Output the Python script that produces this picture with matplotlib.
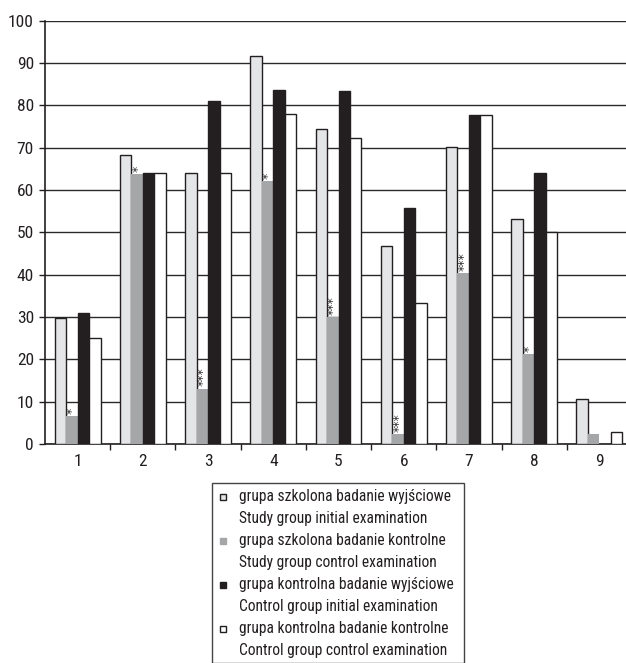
import matplotlib
matplotlib.use("Agg")
import matplotlib.pyplot as plt
from matplotlib.patches import Rectangle
import numpy as np

plt.rcParams['font.family'] = ['Roboto Condensed', 'Liberation Sans Narrow',
                               'Roboto', 'DejaVu Sans']

categories = ['1', '2', '3', '4', '5', '6', '7', '8', '9']
study_initial = [29.7, 68.2, 63.9, 91.5, 74.4, 46.8, 70.2, 53.2, 10.6]
study_control = [6.6, 63.8, 13.1, 62.0, 30.0, 2.3, 40.4, 21.3, 2.3]
control_initial = [30.9, 64.0, 80.9, 83.5, 83.4, 55.7, 77.8, 64.0, 0.0]
control_control = [25.1, 64.0, 64.0, 77.9, 72.3, 33.3, 77.6, 50.1, 2.8]
significance = ['*', '*', '***', '*', '***', '***', '***', '*', '']

series_labels = [
    'grupa szkolona badanie wyjściowe\nStudy group initial examination',
    'grupa szkolona badanie kontrolne\nStudy group control examination',
    'grupa kontrolna badanie wyjściowe\nControl group initial examination',
    'grupa kontrolna badanie kontrolne\nControl group control examination',
]

W, H = 626, 663
fig = plt.figure(figsize=(W / 100, H / 100), dpi=100)
ax = fig.add_axes([45 / W, (H - 444) / H, 587 / W, 423.5 / H])

edge = '#231f20'
colors = ['#e4e5e7', '#a5a6a8', '#231f20', '#ffffff']
edges = [edge, 'none', edge, edge]
series = [study_initial, study_control, control_initial, control_control]

x = np.arange(1, len(categories) + 1)
bw = 0.176
offsets = [-1.5 * bw, -0.5 * bw, 0.5 * bw, 1.5 * bw]

for vals, c, e, off in zip(series, colors, edges, offsets):
    v = np.array(vals)
    mask = v > 0
    ax.bar(x[mask] + off, v[mask], width=bw, color=c, edgecolor=e,
           linewidth=1.0, zorder=3)

# significance marks above the study-group control bars
for xi, v, s in zip(x, study_control, significance):
    if s:
        ax.text(xi + offsets[1] + 0.012, v + 0.5, s, rotation=90, ha='center',
                va='bottom', fontsize=9, color='#333333', zorder=4,
                family='DejaVu Sans')

ax.set_xlim(0.5, 9.5)
ax.set_ylim(0, 100)
ax.set_yticks(np.arange(0, 101, 10))
ax.yaxis.grid(True, color='#2a2a2a', linewidth=1.0, zorder=0)
ax.set_axisbelow(True)

ax.set_xticks(x)
ax.set_xticklabels(categories)
ax.set_xticks(np.arange(1.5, 9.5, 1), minor=True)
ax.tick_params(axis='x', which='major', length=0, pad=7, labelsize=12.5,
               labelcolor='#231f20')
ax.tick_params(axis='x', which='minor', length=4, width=1, color='#231f20',
               direction='out')
ax.tick_params(axis='y', length=4, width=1, color='#231f20', pad=4,
               labelsize=12.5, labelcolor='#231f20')

for side in ['top', 'right']:
    ax.spines[side].set_visible(False)
for side in ['left', 'bottom']:
    ax.spines[side].set_color('#231f20')
    ax.spines[side].set_linewidth(1.2)

# legend box
def fx(px):
    return px / W

def fy(py):
    return (H - py) / H

fig.patches.append(Rectangle((fx(212), fy(663)), fx(464) - fx(212),
                             fy(483) - fy(663), transform=fig.transFigure,
                             facecolor='white', edgecolor='#444444',
                             linewidth=1.0))
for i, (lab, c, e) in enumerate(zip(series_labels, colors, edges)):
    y0 = 497 + i * 44
    fig.patches.append(Rectangle((fx(220), fy(y0 + 3)), 6 / W, 6 / H,
                                 transform=fig.transFigure, facecolor=c,
                                 edgecolor=e if e != 'none' else c,
                                 linewidth=1.0))
    first, second = lab.split('\n')
    fig.text(fx(239), fy(y0), first, fontsize=11.2, va='center', ha='left',
             color='#231f20')
    fig.text(fx(239), fy(y0 + 21), second, fontsize=11.2, va='center',
             ha='left', color='#231f20')

fig.savefig('out.png', dpi=100)
